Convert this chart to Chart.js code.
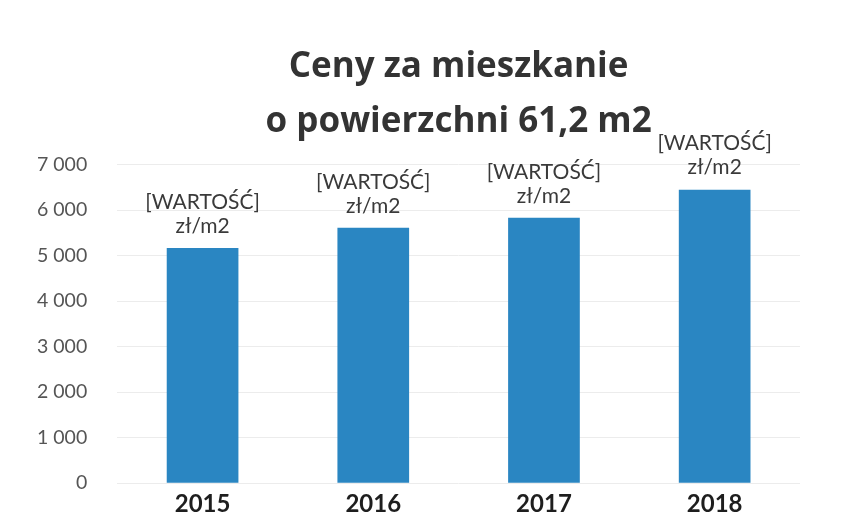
<!DOCTYPE html>
<html>
<head>
<meta charset="utf-8">
<script src="https://cdn.jsdelivr.net/npm/chart.js@4"></script>
<style>
html,body{margin:0;padding:0;background:#fff;}
#wrap{width:849px;height:526px;position:relative;}
</style>
</head>
<body>
<div id="wrap"><canvas id="c" width="849" height="526"></canvas></div>
<script>
const categories = ["2015", "2016", "2017", "2018"];
const prices = [5170, 5610, 5830, 6450];
const yTicks = [0, 1000, 2000, 3000, 4000, 5000, 6000, 7000];
const titleLines = ["Ceny za mieszkanie", "o powierzchni 61,2 m2"];
const labelLines = ["[WARTOŚĆ]", "zł/m2"];

const FONT = "Lato, 'Open Sans', sans-serif";

const barLabels = {
  id: 'barLabels',
  afterDatasetsDraw(chart) {
    const ctx = chart.ctx;
    const meta = chart.getDatasetMeta(0);
    ctx.save();
    ctx.font = "21px " + FONT;
    ctx.fillStyle = "#3a3a3a";
    ctx.textAlign = "center";
    ctx.textBaseline = "middle";
    meta.data.forEach((el) => {
      const x = el.x;
      const y = el.y;
      ctx.fillText(labelLines[0], x, y - 46);
      ctx.fillText(labelLines[1], x, y - 22);
    });
    ctx.restore();
  }
};

new Chart(document.getElementById('c'), {
  type: 'bar',
  data: {
    labels: categories,
    datasets: [{
      data: prices,
      backgroundColor: '#2a86c2',
      borderWidth: 0,
      barPercentage: 0.84,
      categoryPercentage: 0.5
    }]
  },
  options: {
    responsive: false,
    animation: false,
    devicePixelRatio: 1,
    layout: { padding: { left: 7, right: 49, top: 0, bottom: 0 } },
    plugins: {
      legend: { display: false },
      tooltip: { enabled: false },
      title: {
        display: true,
        fullSize: false,
        text: titleLines,
        color: '#333333',
        font: { family: "'Open Sans', Lato, sans-serif", size: 35, weight: 'bold', lineHeight: 1.58 },
        padding: { top: 39, bottom: 15 }
      }
    },
    scales: {
      x: {
        grid: { display: false, drawTicks: false },
        border: { display: false },
        ticks: {
          color: '#1e1e1e',
          font: { family: FONT, size: 24, weight: 'bold' },
          padding: 7
        }
      },
      y: {
        min: 0,
        max: 7000,
        afterBuildTicks(scale) { scale.ticks = yTicks.map(v => ({ value: v })); },
        grid: { color: '#ececec', lineWidth: 1, drawTicks: false },
        border: { display: false },
        ticks: {
          color: '#555555',
          font: { family: FONT, size: 19.5 },
          padding: 30,
          callback: (v) => String(v).replace(/\B(?=(\d{3})+(?!\d))/g, ' ')
        }
      }
    }
  },
  plugins: [barLabels]
});
</script>
</body>
</html>
